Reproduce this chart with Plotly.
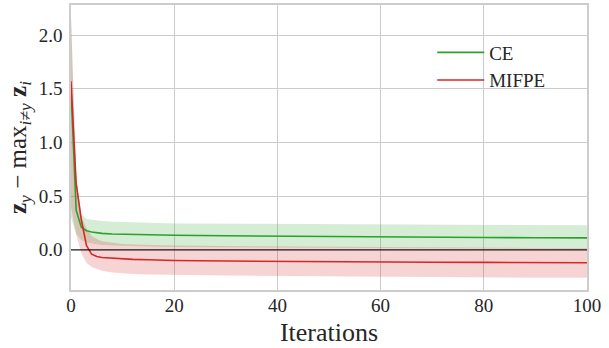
import plotly.graph_objects as go

# ---- data ----
iterations = [0, 1, 2, 3, 4, 5, 6, 8, 10, 12, 15, 20, 30, 40, 50, 60, 70, 80, 90, 100]

ce_mean = [1.50, 0.37, 0.21, 0.178, 0.166, 0.158, 0.153, 0.147, 0.144, 0.142, 0.140, 0.136,
           0.131, 0.127, 0.122, 0.118, 0.116, 0.115, 0.113, 0.111]
ce_upper = [2.17, 0.68, 0.33, 0.29, 0.28, 0.272, 0.268, 0.262, 0.258, 0.255, 0.252, 0.246,
            0.244, 0.242, 0.237, 0.232, 0.231, 0.230, 0.230, 0.229]
ce_lower = [0.30, 0.15, 0.09, 0.07, 0.058, 0.050, 0.046, 0.040, 0.036, 0.033, 0.030, 0.026,
            0.024, 0.022, 0.020, 0.018, 0.016, 0.014, 0.012, 0.010]

mifpe_mean = [1.57, 0.62, 0.28, 0.04, -0.04, -0.062, -0.071, -0.079, -0.085, -0.089, -0.093, -0.099,
              -0.104, -0.108, -0.111, -0.114, -0.116, -0.117, -0.119, -0.120]
mifpe_upper = [2.17, 0.68, 0.31, 0.20, 0.13, 0.10, 0.08, 0.065, 0.055, 0.050, 0.046, 0.040,
               0.035, 0.031, 0.028, 0.025, 0.022, 0.020, 0.018, 0.016]
mifpe_lower = [0.40, 0.145, -0.03, -0.12, -0.16, -0.18, -0.195, -0.21, -0.22, -0.225, -0.23, -0.235,
               -0.24, -0.244, -0.248, -0.253, -0.255, -0.257, -0.259, -0.26]

x_ticks = [0, 20, 40, 60, 80, 100]
y_ticks = [0.0, 0.5, 1.0, 1.5, 2.0]
y_tick_labels = ["0.0", "0.5", "1.0", "1.5", "2.0"]

GREEN = "#2ca02c"
RED = "#d62728"
FONT = "'Liberation Serif', 'DejaVu Serif', serif"
TEXT = "#262626"

fig = go.Figure()

def band(x, lo, hi, rgba):
    fig.add_trace(go.Scatter(x=x, y=hi, mode="lines", line=dict(width=0),
                             showlegend=False, hoverinfo="skip"))
    fig.add_trace(go.Scatter(x=x, y=lo, mode="lines", line=dict(width=0),
                             fill="tonexty", fillcolor=rgba,
                             showlegend=False, hoverinfo="skip"))

band(iterations, ce_lower, ce_upper, "rgba(44,160,44,0.2)")
band(iterations, mifpe_lower, mifpe_upper, "rgba(214,39,40,0.2)")

fig.add_hline(y=0, line=dict(color="rgba(0,0,0,0.6)", width=1.6))

fig.add_trace(go.Scatter(x=iterations, y=ce_mean, mode="lines", name="CE",
                         line=dict(color=GREEN, width=1.6)))
fig.add_trace(go.Scatter(x=iterations, y=mifpe_mean, mode="lines", name="MIFPE",
                         line=dict(color=RED, width=1.6)))

fig.update_layout(
    width=609, height=348,
    margin=dict(l=71, r=22, t=3, b=58),
    paper_bgcolor="white", plot_bgcolor="white",
    font=dict(family=FONT, color=TEXT, size=19),
    legend=dict(x=0.70, y=0.90, xanchor="left", yanchor="top", traceorder="normal",
                itemwidth=47,
                bgcolor="rgba(0,0,0,0)", font=dict(size=19, family=FONT, color=TEXT),
                tracegroupgap=0),
    showlegend=True,
)
fig.update_xaxes(
    range=[0, 100], tickvals=x_ticks, showgrid=True, gridcolor="#cccccc", gridwidth=1,
    zeroline=False, showline=True, linecolor="#cccccc", linewidth=1.5, mirror=True,
    ticks="", ticklabelstandoff=-3, tickfont=dict(size=19, family=FONT, color=TEXT),
    title=dict(text="Iterations", font=dict(size=26, family=FONT, color=TEXT), standoff=8),
)
fig.update_yaxes(
    range=[-0.374, 2.28], tickvals=y_ticks, ticktext=y_tick_labels, showgrid=True,
    gridcolor="#cccccc", gridwidth=1, zeroline=False, showline=True, linecolor="#cccccc",
    linewidth=1.5, mirror=True, ticks="outside", ticklen=3, tickcolor="rgba(0,0,0,0)",
    tickfont=dict(size=19, family=FONT, color=TEXT),
    title=dict(text="<b>z</b><sub><i>y</i></sub> \u2212 max<sub><i>i</i>\u2260<i>y</i></sub> <b>z</b><sub><i>i</i></sub>",
               font=dict(size=25, family=FONT, color=TEXT), standoff=5),
)

fig.write_html("out.html")
